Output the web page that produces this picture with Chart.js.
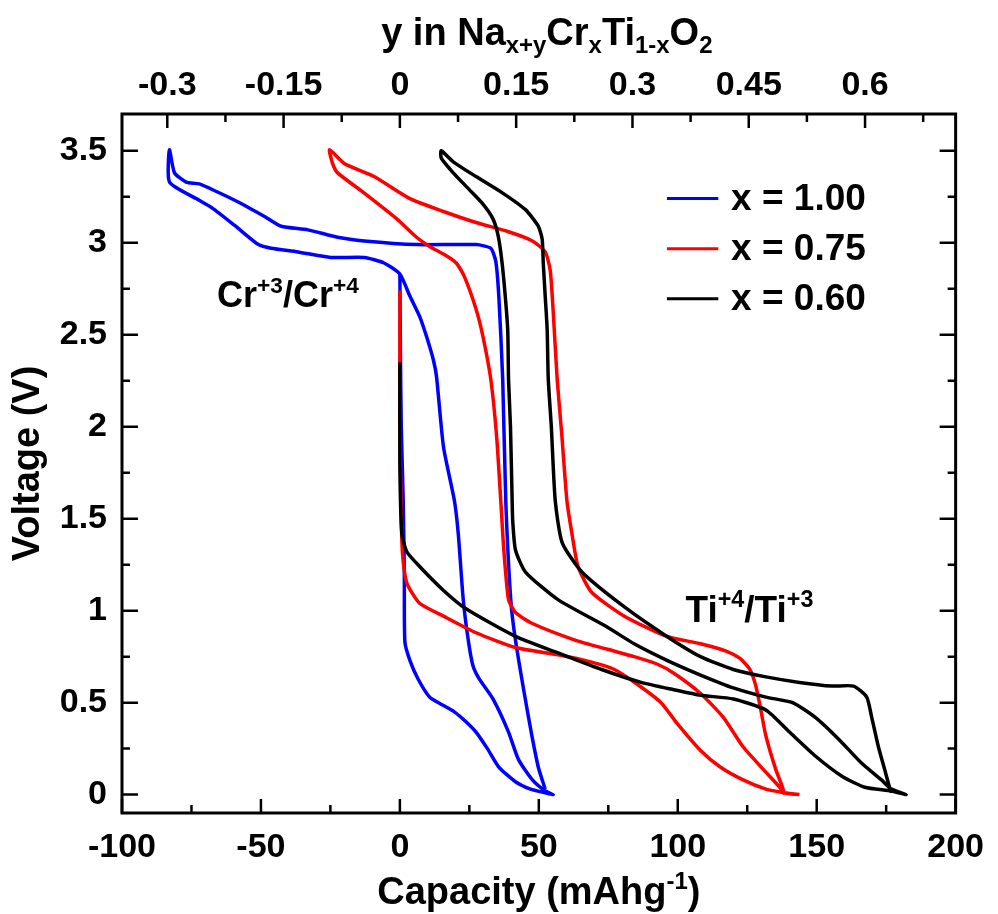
<!DOCTYPE html>
<html>
<head>
<meta charset="utf-8">
<script src="https://cdn.jsdelivr.net/npm/chart.js"></script>
<style>
  html, body { margin: 0; padding: 0; background: #fff; }
</style>
</head>
<body>
<canvas id="myChart" width="998" height="914"></canvas>
<script>
const FONT = '"Liberation Sans", Arial, Helvetica, sans-serif';

// x = 1.00 (blue): first discharge, charge, discharge
const capBlue = [0, 0.2, 0.5, 1.2, 1.6, 1.8, 3.6, 6.5, 10.7, 15, 19.6, 23.5, 27.4, 31.5, 35.6, 41.6, 47, 52.3, 55.2,
  52.3, 47.7, 42.7, 39.1, 33.5, 28.5, 26.3, 24.6, 22.8, 21.0, 19.6, 15.7, 13.2, 12.1, 9.6, 7.1, 3.6, 0,
  -5.7, -12.8, -24.9, -36.7, -46.3, -50.9, -59.1, -67.6, -73.3, -82.9, -82.9,
  -81.1, -76.9, -72.2, -66.2, -58.0, -48.4, -42.7, -33.1, -22.4, -12.8, 6.0, 27.4, 32.7, 34.5, 35.6, 37.0, 38.1, 39.9, 41.6, 46.3, 49.8, 52.3];
const voltBlue = [2.83, 2.4, 2.0, 1.6, 1.2, 0.83, 0.73, 0.63, 0.53, 0.49, 0.45, 0.40, 0.34, 0.25, 0.15, 0.07, 0.03, 0.01, 0,
  0.02, 0.08, 0.19, 0.34, 0.52, 0.63, 0.70, 0.84, 1.06, 1.42, 1.60, 1.89, 2.27, 2.36, 2.49, 2.60, 2.71, 2.83,
  2.89, 2.92, 2.92, 2.95, 2.97, 2.99, 3.09, 3.19, 3.24, 3.33, 3.505,
  3.38, 3.33, 3.32, 3.28, 3.22, 3.14, 3.09, 3.07, 3.03, 3.01, 2.99, 2.99, 2.97, 2.90, 2.71, 2.26, 1.60, 1.06, 0.84, 0.42, 0.15, 0.03];

// x = 0.75 (red)
const capRed = [0, 0, 0.5, 1, 2.5, 7.1, 15.7, 27.4, 41.6, 56.9, 69, 77.2, 85.4, 94, 99.6, 108.2, 115.3, 123.5, 131.7, 138.4, 143.8,
  138.4, 136.7, 130.6, 123.5, 116.4, 108.2, 98.6, 92.5, 84.3, 74.7, 63, 47.7, 41.6, 39.1, 37.4, 36.3, 34.8, 32.7, 29.9, 27.4, 23.1, 20.3, 16.7, 10.7, 6.0, -1.1, -12.8, -22.4, -24.2, -25.3,
  -19.9, -9.3, 3.6, 15.7, 27.4, 39.1, 47.7, 52.3, 54.1, 55.2, 56.6, 58.3, 60.1, 61.9, 64.1, 69, 80.8, 96.1, 108.2, 117.4, 122.4, 126, 128.1, 129.9, 131.7, 135.2, 137.7, 138.4];
const voltRed = [2.74, 2.0, 1.5, 1.3, 1.15, 1.04, 0.97, 0.88, 0.80, 0.76, 0.72, 0.68, 0.60, 0.50, 0.39, 0.24, 0.15, 0.08, 0.03, 0.01, 0,
  0.01, 0.04, 0.14, 0.26, 0.42, 0.55, 0.66, 0.71, 0.75, 0.79, 0.84, 0.93, 0.99, 1.06, 1.33, 1.60, 1.95, 2.26, 2.49, 2.64, 2.82, 2.89, 2.93, 2.98, 3.03, 3.13, 3.27, 3.38, 3.43, 3.505,
  3.43, 3.36, 3.24, 3.17, 3.11, 3.06, 3.01, 2.95, 2.85, 2.62, 2.26, 1.95, 1.60, 1.42, 1.24, 1.10, 0.97, 0.86, 0.82, 0.78, 0.74, 0.68, 0.59, 0.46, 0.32, 0.14, 0.04, 0];

// x = 0.60 (black)
const capBlack = [0, 0, 0.7, 2.5, 7.1, 15.7, 23.8, 41.6, 56.9, 72.6, 86.8, 98.6, 108.2, 120, 131.7, 140.2, 149.5, 159.1, 167.3, 176.9, 182.2,
  176.9, 173.3, 166.2, 158, 149.5, 141.3, 131.7, 120, 108.2, 96.1, 84.3, 74.7, 56.9, 45.2, 41.6, 40.6, 40.4, 39.8, 39.1, 38.8, 37.4, 36.3, 35.2, 33.5, 29.9, 24.9, 19.2, 14.9, 14.9,
  19.2, 27.4, 37, 45.2, 49.8, 51.2, 51.6, 52.3, 53, 53.4, 54.5, 55.9, 58.4, 65.5, 80.8, 96.1, 108.2, 120, 131.7, 143.8, 155.5, 163.3, 168, 169.8, 172.2, 174.4, 176.2, 176.9];
const voltBlack = [2.35, 1.8, 1.42, 1.32, 1.24, 1.11, 1.01, 0.86, 0.77, 0.68, 0.61, 0.57, 0.54, 0.52, 0.46, 0.34, 0.21, 0.10, 0.04, 0.02, 0,
  0.03, 0.08, 0.17, 0.30, 0.42, 0.50, 0.53, 0.58, 0.65, 0.73, 0.82, 0.91, 1.06, 1.21, 1.33, 1.49, 1.60, 2.0, 2.26, 2.53, 2.80, 2.95, 3.05, 3.13, 3.21, 3.29, 3.38, 3.46, 3.50,
  3.44, 3.36, 3.27, 3.18, 3.09, 3.02, 2.89, 2.71, 2.53, 2.26, 2.0, 1.60, 1.37, 1.21, 1.02, 0.86, 0.75, 0.68, 0.64, 0.61, 0.59, 0.59, 0.53, 0.42, 0.26, 0.14, 0.04, 0.01];

const seriesLabels = ['x = 1.00', 'x = 0.75', 'x = 0.60'];
const seriesColors = ['#0000ff', '#ff0000', '#000000'];

// tick labels
const xTicks = [-100, -50, 0, 50, 100, 150, 200];
const xMinor = [-75, -25, 25, 75, 125, 175];
const yTicks = [0, 0.5, 1, 1.5, 2, 2.5, 3, 3.5];
const yMinor = [0.25, 0.75, 1.25, 1.75, 2.25, 2.75, 3.25];
const topTicks = [-0.3, -0.15, 0, 0.15, 0.3, 0.45, 0.6];
const topMinor = [-0.225, -0.075, 0.075, 0.225, 0.375, 0.525, 0.675];
const capPerY = 279; // mAh/g for one unit of y

function pts(xs, ys) { return xs.map((v, i) => ({ x: v, y: ys[i] })); }

function rich(ctx, parts, x, y, size, align) {
  const f = s => 'bold ' + s + 'px ' + FONT;
  let w = 0;
  parts.forEach(p => { ctx.font = f(p[1] ? size * 0.63 : size); w += ctx.measureText(p[0]).width; });
  let cx = align === 'center' ? x - w / 2 : x;
  ctx.textAlign = 'left';
  ctx.textBaseline = 'alphabetic';
  parts.forEach(p => {
    const s = p[1] ? size * 0.63 : size;
    ctx.font = f(s);
    const dy = p[1] === 1 ? -size * 0.4 : (p[1] === -1 ? size * 0.22 : 0);
    ctx.fillText(p[0], cx, y + dy);
    cx += ctx.measureText(p[0]).width;
  });
}

const decor = {
  id: 'decor',
  afterDraw(chart) {
    const ctx = chart.ctx, a = chart.chartArea;
    const xs = chart.scales.x, ys = chart.scales.y, ts = chart.scales.x2;
    ctx.save();
    ctx.strokeStyle = '#000';
    ctx.fillStyle = '#000';
    ctx.lineWidth = 2.5;
    ctx.beginPath();
    const vt = (px, y0, len) => { ctx.moveTo(px, y0); ctx.lineTo(px, y0 + len); };
    const ht = (py, x0, len) => { ctx.moveTo(x0, py); ctx.lineTo(x0 + len, py); };
    xTicks.forEach(v => vt(xs.getPixelForValue(v), a.bottom, -14));
    xMinor.forEach(v => vt(xs.getPixelForValue(v), a.bottom, -8));
    topTicks.forEach(v => vt(ts.getPixelForValue(v), a.top, 14));
    topMinor.forEach(v => vt(ts.getPixelForValue(v), a.top, 8));
    yTicks.forEach(v => { const p = ys.getPixelForValue(v); ht(p, a.left, 16); ht(p, a.right, -16); });
    yMinor.forEach(v => { const p = ys.getPixelForValue(v); ht(p, a.left, 8); ht(p, a.right, -8); });
    ctx.stroke();
    ctx.lineWidth = 3;
    ctx.strokeRect(a.left, a.top, a.right - a.left, a.bottom - a.top);

    // axis titles
    const cx = (a.left + a.right) / 2;
    rich(ctx, [['y in Na', 0], ['x+y', -1], ['Cr', 0], ['x', -1], ['Ti', 0], ['1-x', -1], ['O', 0], ['2', -1]], cx + 8, 45, 38, 'center');
    rich(ctx, [['Capacity (mAhg', 0], ['-1', 1], [')', 0]], cx, 904, 38, 'center');
    ctx.save();
    ctx.translate(39, (a.top + a.bottom) / 2);
    ctx.rotate(-Math.PI / 2);
    rich(ctx, [['Voltage (V)', 0]], 0, 0, 38, 'center');
    ctx.restore();

    // annotations
    rich(ctx, [['Cr', 0], ['+3', 1], ['/Cr', 0], ['+4', 1]], xs.getPixelForValue(-65.8), ys.getPixelForValue(2.65), 36, 'left');
    rich(ctx, [['Ti', 0], ['+4', 1], ['/Ti', 0], ['+3', 1]], xs.getPixelForValue(102.8), ys.getPixelForValue(0.94), 37, 'left');

    // legend
    chart.data.datasets.forEach((d, i) => {
      const py = ys.getPixelForValue(3.24 - i * 0.272);
      ctx.strokeStyle = d.borderColor;
      ctx.lineWidth = 3;
      ctx.beginPath();
      ctx.moveTo(xs.getPixelForValue(96.1), py);
      ctx.lineTo(xs.getPixelForValue(114.6), py);
      ctx.stroke();
      ctx.font = 'bold 37px ' + FONT;
      ctx.textAlign = 'left';
      ctx.textBaseline = 'middle';
      ctx.fillText(d.label, xs.getPixelForValue(119.2), py + 1);
    });
    ctx.restore();
  }
};

const tickFont = { family: FONT, size: 34, weight: 'bold' };
const fmt = v => String(+Number(v).toFixed(3));

new Chart(document.getElementById('myChart'), {
  type: 'scatter',
  data: {
    datasets: [
      { label: seriesLabels[0], data: pts(capBlue, voltBlue), borderColor: seriesColors[0], order: 2 },
      { label: seriesLabels[1], data: pts(capRed, voltRed), borderColor: seriesColors[1], order: 1 },
      { label: seriesLabels[2], data: pts(capBlack, voltBlack), borderColor: seriesColors[2], order: 0 }
    ].map(d => Object.assign(d, { showLine: true, pointRadius: 0, borderWidth: 3.5, tension: 0.2, fill: false }))
  },
  options: {
    responsive: false,
    animation: false,
    devicePixelRatio: 1,
    layout: { padding: 0 },
    plugins: { legend: { display: false }, tooltip: { enabled: false } },
    scales: {
      x: {
        type: 'linear', position: 'bottom', min: -100, max: 200,
        grid: { display: false, drawTicks: false }, border: { display: false },
        afterBuildTicks: s => { s.ticks = xTicks.map(v => ({ value: v })); },
        ticks: { padding: 14, font: tickFont, color: '#000', maxRotation: 0, autoSkip: false, callback: fmt },
        afterFit: s => { s.height = 101; }
      },
      x2: {
        type: 'linear', position: 'top', display: true, min: -100 / capPerY, max: 200 / capPerY,
        grid: { display: false, drawTicks: false }, border: { display: false },
        afterBuildTicks: s => { s.ticks = topTicks.map(v => ({ value: v })); },
        ticks: { padding: 8, font: tickFont, color: '#000', maxRotation: 0, autoSkip: false, callback: fmt },
        afterFit: s => { s.height = 114; }
      },
      y: {
        type: 'linear', position: 'left', min: -0.1, max: 3.7,
        grid: { display: false, drawTicks: false }, border: { display: false },
        afterBuildTicks: s => { s.ticks = yTicks.map(v => ({ value: v })); },
        ticks: { padding: 15, font: tickFont, color: '#000', autoSkip: false, callback: fmt },
        afterFit: s => { s.width = 122; }
      },
      y2: {
        type: 'linear', position: 'right', display: true, min: -0.1, max: 3.7,
        grid: { display: false, drawTicks: false }, border: { display: false },
        ticks: { display: false },
        afterFit: s => { s.width = 33; }
      }
    }
  },
  plugins: [decor]
});
</script>
</body>
</html>
